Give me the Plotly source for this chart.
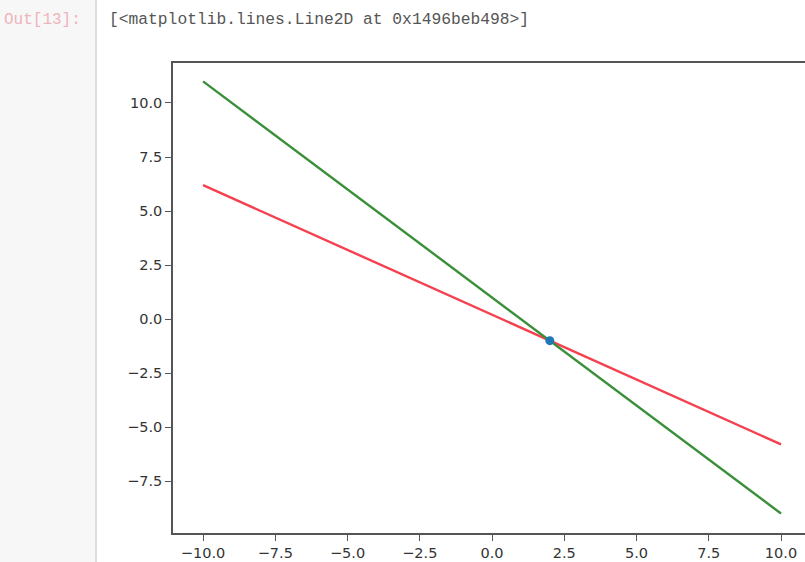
import plotly.graph_objects as go

# Data
x_vals = [-10, 10]
green_y = [11, -9]
red_y = [6.2, -5.8]
point_x = [2]
point_y = [-1]

x_ticks = [-10.0, -7.5, -5.0, -2.5, 0.0, 2.5, 5.0, 7.5, 10.0]
x_ticktext = ["\u221210.0", "\u22127.5", "\u22125.0", "\u22122.5", "0.0", "2.5", "5.0", "7.5", "10.0"]
y_ticks = [-7.5, -5.0, -2.5, 0.0, 2.5, 5.0, 7.5, 10.0]
y_ticktext = ["\u22127.5", "\u22125.0", "\u22122.5", "0.0", "2.5", "5.0", "7.5", "10.0"]

prompt_text = "Out[13]:"
output_text = "[&lt;matplotlib.lines.Line2D at 0x1496beb498&gt;]"

PW, PH = 632, 470  # plot area size in px

fig = go.Figure()
fig.add_trace(go.Scatter(x=x_vals, y=red_y, mode="lines",
                         line=dict(color="#f5404f", width=2.4), showlegend=False))
fig.add_trace(go.Scatter(x=x_vals, y=green_y, mode="lines",
                         line=dict(color="#3a8f3a", width=2.4), showlegend=False))
fig.add_trace(go.Scatter(x=point_x, y=point_y, mode="markers",
                         marker=dict(color="#1f77b4", size=9), showlegend=False))

axis_common = dict(
    showgrid=False, zeroline=False, showline=True, linecolor="#555555", linewidth=1.5,
    ticks="outside", ticklen=6, tickwidth=1, tickcolor="#555555", automargin=False,
    tickfont=dict(family="DejaVu Sans", size=14.5, color="#333333"),
)
fig.update_xaxes(range=[-11.04, 10.83], tickvals=x_ticks, ticktext=x_ticktext,
                 mirror=True, **axis_common)
fig.update_yaxes(range=[-9.9, 11.85], tickvals=y_ticks, ticktext=y_ticktext,
                 mirror=False, **axis_common)

# notebook gutter
fig.add_shape(type="rect", xref="paper", yref="paper", x0=-173/PW, x1=-77/PW,
              y0=-29/PH, y1=(PH+63)/PH, fillcolor="#f7f7f7", line_width=0, layer="below")
fig.add_shape(type="line", xref="paper", yref="paper", x0=-77/PW, x1=-77/PW,
              y0=-29/PH, y1=(PH+63)/PH, line=dict(color="#dedede", width=2))

fig.add_annotation(text=prompt_text, xref="paper", yref="paper",
                   x=-90/PW, y=(PH+63-20)/PH, xanchor="right", yanchor="middle",
                   showarrow=False, font=dict(family="Liberation Mono", size=16, color="#eeb4ba"))
fig.add_annotation(text=output_text, xref="paper", yref="paper",
                   x=-66/PW, y=(PH+63-20)/PH, xanchor="left", yanchor="middle",
                   showarrow=False, font=dict(family="Liberation Mono", size=16.3, color="#555555"))

fig.update_layout(
    width=805, height=562,
    margin=dict(l=173, r=0, t=63, b=29),
    paper_bgcolor="white", plot_bgcolor="white",
)

fig.write_html("out.html", config={"displayModeBar": False},
               post_script="document.body.style.margin='0';document.body.style.overflow='hidden';")
